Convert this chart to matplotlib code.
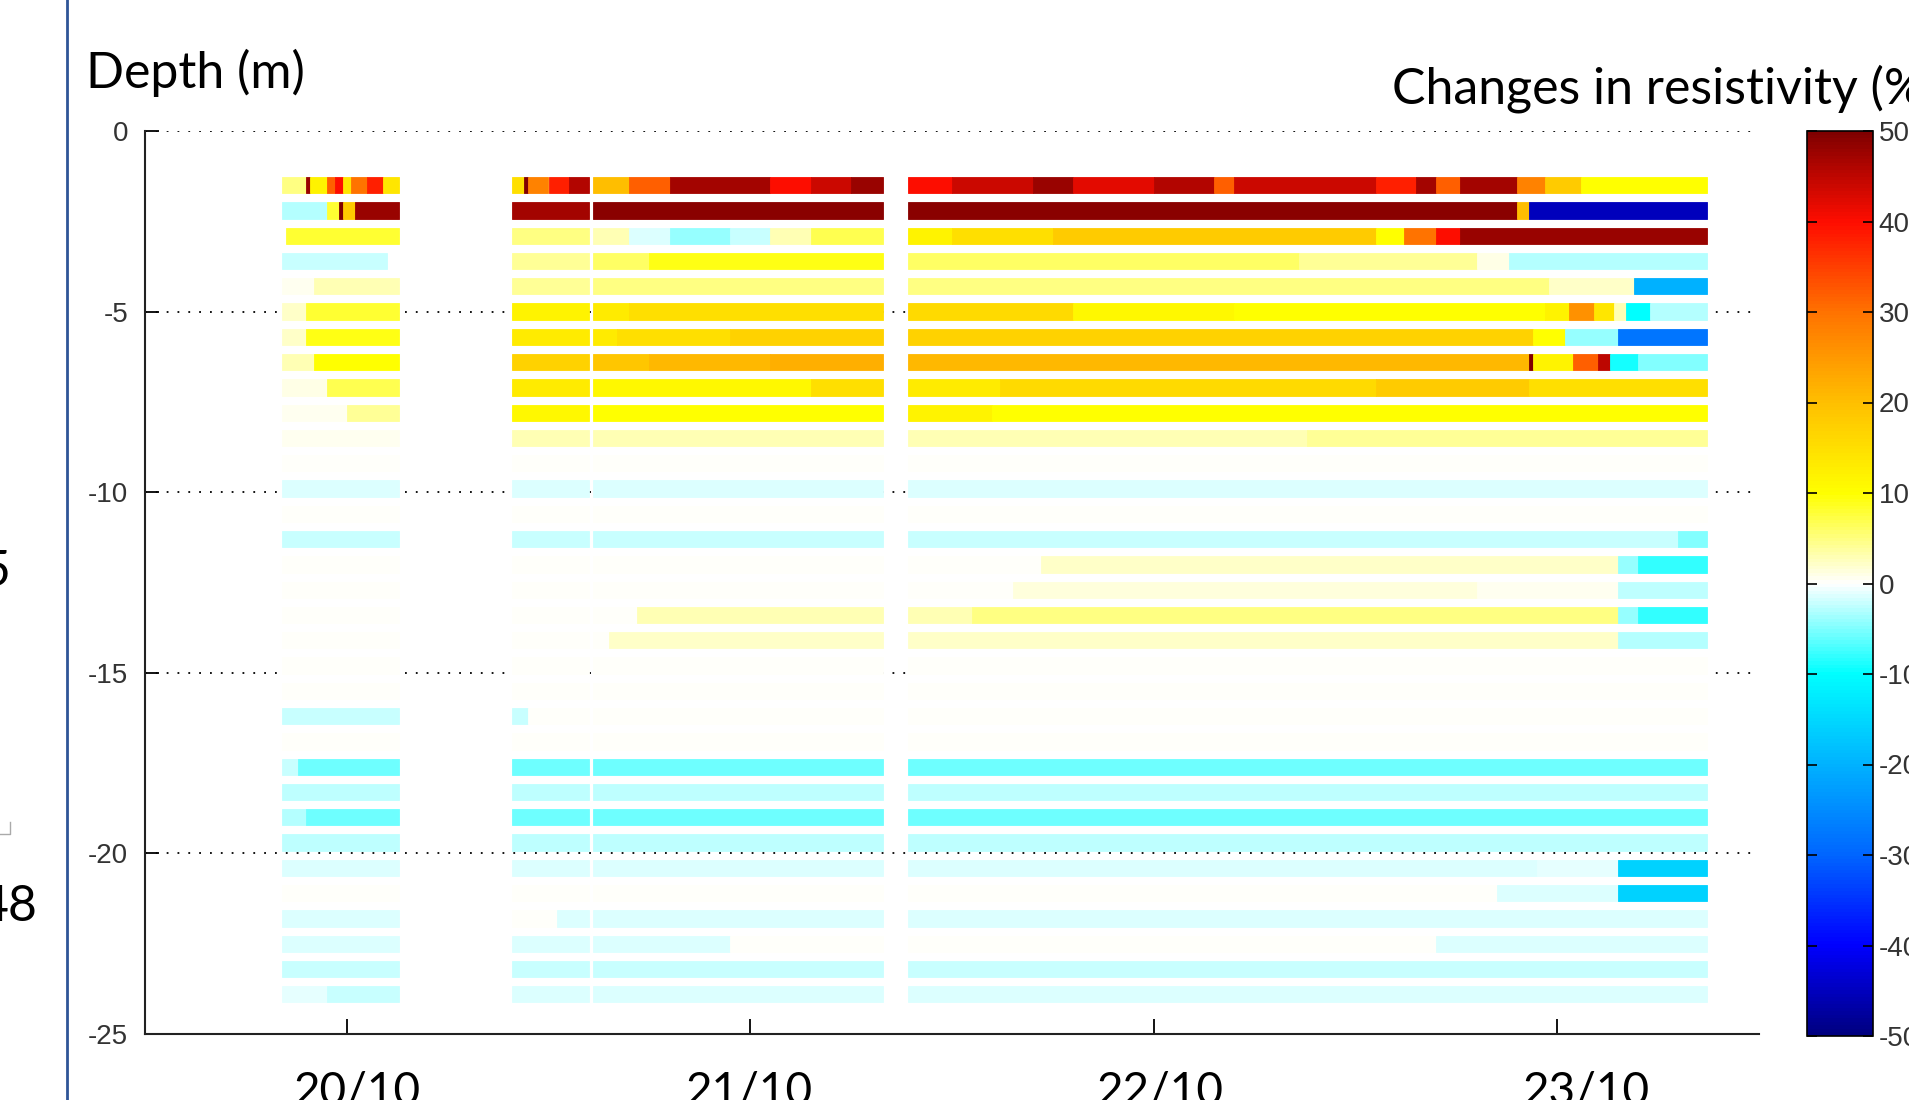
import matplotlib
matplotlib.use("Agg")
import matplotlib.pyplot as plt
from matplotlib.colors import LinearSegmentedColormap, Normalize
from matplotlib.cm import ScalarMappable
from matplotlib.lines import Line2D

plt.rcParams['axes.unicode_minus'] = False

# electrode layers, depth in m (bar centres)
depth = [1.5, 2.2, 2.9, 3.6, 4.3, 5.0, 5.7, 6.4, 7.1, 7.8, 8.5,
         9.2, 9.9, 10.6, 11.3, 12.0, 12.7, 13.4, 14.1, 14.8, 15.5, 16.2,
         16.9, 17.6, 18.3, 19.0, 19.7, 20.4, 21.1, 21.8, 22.5, 23.2, 23.9]

# (start day, end day, change in resistivity %)
layers_top = [
    [(19.84, 19.90, 5), (19.90, 19.91, 48), (19.91, 19.95, 12), (19.95, 19.97, 32), (19.97, 19.99, 40),
     (19.99, 20.01, 14), (20.01, 20.05, 30), (20.05, 20.09, 38), (20.09, 20.13, 14),
     (20.41, 20.44, 15), (20.44, 20.45, 50), (20.45, 20.50, 28), (20.50, 20.55, 38), (20.55, 20.60, 46),
     (20.61, 20.70, 20), (20.70, 20.80, 32), (20.80, 21.05, 47), (21.05, 21.15, 40), (21.15, 21.25, 44),
     (21.25, 21.33, 48),
     (21.39, 21.50, 40), (21.50, 21.70, 44), (21.70, 21.80, 48), (21.80, 22.00, 42), (22.00, 22.15, 46),
     (22.15, 22.20, 32), (22.20, 22.55, 44), (22.55, 22.65, 38), (22.65, 22.70, 47), (22.70, 22.76, 32),
     (22.76, 22.90, 47), (22.90, 22.97, 28), (22.97, 23.06, 18), (23.06, 23.37, 10)],
    [(19.84, 19.95, -3), (19.95, 19.98, 8), (19.98, 19.99, 50), (19.99, 20.02, 18), (20.02, 20.13, 48),
     (20.41, 20.60, 47), (20.61, 21.33, 49),
     (21.39, 22.90, 49), (22.90, 22.93, 20), (22.93, 23.37, -45)],
    [(19.85, 20.13, 8), (20.41, 20.60, 5),
     (20.61, 20.70, 3), (20.70, 20.80, -1.5), (20.80, 20.95, -4), (20.95, 21.05, -2), (21.05, 21.15, 3),
     (21.15, 21.33, 7),
     (21.39, 21.50, 12), (21.50, 21.75, 15), (21.75, 22.55, 18), (22.55, 22.62, 10), (22.62, 22.70, 30),
     (22.70, 22.76, 40), (22.76, 23.37, 48)],
    [(19.84, 20.10, -2), (20.41, 20.60, 4), (20.61, 20.75, 6), (20.75, 21.33, 9),
     (21.39, 22.36, 6), (22.36, 22.80, 4), (22.80, 22.88, 1), (22.88, 23.37, -3)],
    [(19.84, 19.92, 0.5), (19.92, 20.13, 3), (20.41, 20.60, 4), (20.61, 21.33, 5),
     (21.39, 22.98, 5), (22.98, 23.19, 2), (23.19, 23.37, -20)],
    [(19.84, 19.90, 2), (19.90, 20.13, 8), (20.41, 20.60, 12), (20.61, 20.70, 13), (20.70, 21.33, 15),
     (21.39, 21.80, 16), (21.80, 22.20, 11), (22.20, 22.97, 10), (22.97, 23.03, 12), (23.03, 23.09, 26),
     (23.09, 23.14, 14), (23.14, 23.17, 3), (23.17, 23.23, -10), (23.23, 23.37, -3)],
    [(19.84, 19.90, 2), (19.90, 20.13, 9), (20.41, 20.60, 13),
     (20.61, 20.67, 13), (20.67, 20.95, 15), (20.95, 21.33, 17),
     (21.39, 22.94, 17), (22.94, 23.02, 10), (23.02, 23.15, -4), (23.15, 23.37, -28)],
    [(19.84, 19.92, 3), (19.92, 20.13, 10), (20.41, 20.60, 17),
     (20.61, 20.75, 19), (20.75, 21.05, 21), (21.05, 21.33, 22),
     (21.39, 22.93, 21), (22.93, 22.94, 50), (22.94, 23.04, 12), (23.04, 23.10, 32), (23.10, 23.13, 45),
     (23.13, 23.20, -9), (23.20, 23.37, -5)],
    [(19.84, 19.95, 1), (19.95, 20.13, 7), (20.41, 20.60, 13), (20.61, 21.15, 11), (21.15, 21.33, 15),
     (21.39, 21.62, 13), (21.62, 22.55, 16), (22.55, 22.93, 18), (22.93, 23.37, 15)],
    [(19.84, 20.00, 0.5), (20.00, 20.13, 4), (20.41, 20.60, 11), (20.61, 21.33, 10),
     (21.39, 21.60, 12), (21.60, 23.37, 10)],
    [(19.84, 20.13, 0.5), (20.41, 20.60, 3), (20.61, 21.33, 3), (21.39, 22.38, 3), (22.38, 23.37, 4)],
]

layers_mid = [
    [(19.84, 20.13, 0), (20.41, 20.60, 0), (20.61, 21.33, 0), (21.39, 23.37, 0)],
    [(19.84, 20.13, -1.5), (20.41, 20.60, -1.5), (20.61, 21.33, -1.5), (21.39, 23.37, -1.5)],
    [(19.84, 20.13, 0), (20.41, 20.60, 0), (20.61, 21.33, 0), (21.39, 23.37, 0)],
    [(19.84, 20.13, -2), (20.41, 20.60, -2), (20.61, 21.33, -2), (21.39, 23.30, -2),
     (23.30, 23.37, -5)],
    [(19.84, 20.13, 0), (20.41, 20.60, 0), (20.61, 21.33, 0),
     (21.39, 21.72, 0), (21.72, 23.15, 2), (23.15, 23.20, -4), (23.20, 23.37, -8)],
    [(19.84, 20.13, 0), (20.41, 20.60, 0), (20.61, 21.33, 0),
     (21.39, 21.65, 0), (21.65, 22.80, 1.5), (22.80, 23.15, 0.5), (23.15, 23.37, -2.5)],
    [(19.84, 20.13, 0), (20.41, 20.60, 0), (20.61, 20.72, 0), (20.72, 21.33, 3),
     (21.39, 21.55, 3), (21.55, 23.15, 5), (23.15, 23.20, -4), (23.20, 23.37, -8)],
    [(19.84, 20.13, 0), (20.41, 20.60, 0), (20.61, 20.65, 0), (20.65, 21.33, 2),
     (21.39, 23.15, 2), (23.15, 23.37, -3)],
    [(19.84, 20.13, 0), (20.41, 20.60, 0), (20.61, 21.33, 0), (21.39, 23.37, 0)],
    [(19.84, 20.13, 0), (20.41, 20.60, 0), (20.61, 21.33, 0), (21.39, 23.37, 0)],
    [(19.84, 20.13, -2), (20.41, 20.45, -2), (20.45, 20.60, 0), (20.61, 21.33, 0), (21.39, 23.37, 0)],
]

layers_deep = [
    [(19.84, 20.13, 0), (20.41, 20.60, 0), (20.61, 21.33, 0), (21.39, 23.37, 0)],
    [(19.84, 19.88, -2), (19.88, 20.13, -5.5), (20.41, 20.60, -5.5), (20.61, 21.33, -5.5),
     (21.39, 23.37, -5.5)],
    [(19.84, 20.13, -2.5), (20.41, 20.60, -2.5), (20.61, 21.33, -2.5), (21.39, 23.37, -2.5)],
    [(19.84, 19.90, -3), (19.90, 20.13, -5.5), (20.41, 20.60, -5.5), (20.61, 21.33, -5.5),
     (21.39, 23.37, -5.5)],
    [(19.84, 20.13, -2.5), (20.41, 20.60, -2.5), (20.61, 21.33, -2.5), (21.39, 23.37, -2.5)],
    [(19.84, 20.13, -1.5), (20.41, 20.60, -1.5), (20.61, 21.33, -1.5),
     (21.39, 22.95, -1.5), (22.95, 23.15, -1), (23.15, 23.37, -16)],
    [(19.84, 20.13, 0), (20.41, 20.60, 0), (20.61, 21.33, 0),
     (21.39, 22.85, 0), (22.85, 23.15, -1.5), (23.15, 23.37, -16)],
    [(19.84, 20.13, -1.5), (20.41, 20.52, 0), (20.52, 20.60, -1.5), (20.61, 21.33, -1.5),
     (21.39, 23.37, -1.5)],
    [(19.84, 20.13, -1.5), (20.41, 20.60, -1.5), (20.61, 20.95, -1.5), (20.95, 21.33, 0),
     (21.39, 22.70, 0), (22.70, 23.37, -1.5)],
    [(19.84, 20.13, -2), (20.41, 20.60, -2), (20.61, 21.33, -2), (21.39, 23.37, -2)],
    [(19.84, 19.95, -1), (19.95, 20.13, -2), (20.41, 20.60, -1.5), (20.61, 21.33, -1.5),
     (21.39, 23.37, -1.5)],
]

day_ticks = [20, 21, 22, 23]
day_labels = ['20/10', '21/10', '22/10', '23/10']
day_label_shift = [0.027, -0.002, 0.017, 0.072]   # slide labels sit a little off the ticks
depth_ticks = [0, -5, -10, -15, -20, -25]
cbar_ticks = [50, 40, 30, 20, 10, 0, -10, -20, -30, -40, -50]

# jet-like map with white around zero
cmap = LinearSegmentedColormap.from_list('jetwhite', [
    (0.0, (0.0, 0.0, 0.5)), (0.1, (0.0, 0.0, 1.0)), (0.2, (0.0, 0.4, 1.0)),
    (0.3, (0.0, 0.7, 1.0)), (0.4, (0.0, 1.0, 1.0)), (0.5, (1.0, 1.0, 1.0)),
    (0.6, (1.0, 1.0, 0.0)), (0.7, (1.0, 0.75, 0.0)), (0.8, (1.0, 0.45, 0.0)),
    (0.9, (1.0, 0.05, 0.0)), (1.0, (0.5, 0.0, 0.0))], N=256)
norm = Normalize(-50, 50)

W, H = 1909, 1100
fig = plt.figure(figsize=(W / 100, H / 100), dpi=100)
ax = fig.add_axes([145 / W, 66 / H, (1759 - 145) / W, (1034 - 131) / H])

ys, lefts, widths, cols = [], [], [], []
for d, pieces in zip(depth, layers_top + layers_mid + layers_deep):
    for t0, t1, v in pieces:
        ys.append(-d)
        lefts.append(t0)
        widths.append(t1 - t0)
        cols.append(cmap(norm(v)))
ax.barh(ys, widths, left=lefts, height=0.45, color=cols, edgecolor=cols, linewidth=0.6, zorder=2)

ax.set_xlim(19.5, 23.5)
ax.set_ylim(-25, 0)
ax.set_yticks(depth_ticks)
ax.set_yticklabels([str(t) for t in depth_ticks], family='Liberation Sans', fontsize=20, color='#333333')
ax.set_xticks(day_ticks)
ax.set_xticklabels([])
ax.tick_params(axis='y', direction='in', length=10, width=1.3, pad=12)
ax.tick_params(axis='x', direction='in', length=11, width=1.3)
ax.grid(axis='y', linestyle=(0, (1, 5)), color='black', linewidth=1.3)
ax.set_axisbelow(True)
for s in ['top', 'right']:
    ax.spines[s].set_visible(False)
for s in ['left', 'bottom']:
    ax.spines[s].set_linewidth(1.5)
    ax.spines[s].set_color('#222222')

for t, lab, sh in zip(day_ticks, day_labels, day_label_shift):
    ax.text(t + sh, -0.040, lab, transform=ax.get_xaxis_transform(), ha='center', va='top',
            family='Lato', fontsize=33, clip_on=False)

cax = fig.add_axes([1807 / W, 64 / H, 66 / W, (1036 - 131) / H])
cb = fig.colorbar(ScalarMappable(norm=norm, cmap=cmap), cax=cax, ticks=cbar_ticks)
cb.outline.set_linewidth(1.2)
cax.tick_params(direction='in', left=True, right=True, length=7, width=1.2, pad=4,
                labelsize=20, labelcolor='#333333')
for lab in cax.get_yticklabels():
    lab.set_family('Liberation Sans')

fig.text(86 / W, 1 - 88 / H, 'Depth (m)', family='Lato', fontsize=36, va='baseline')
fig.text(1392 / W, 1 - 104 / H, 'Changes in resistivity (%)', family='Lato', fontsize=36, va='baseline')

# bits of the surrounding slide
fig.add_artist(Line2D([67 / W, 67 / W], [0, 1], color='#2f5597', linewidth=2))
fig.text(10 / W, 1 - 572 / H, '5', family='Lato', fontsize=36, ha='right', va='center')
fig.text(37 / W, 1 - 907 / H, '48', family='Lato', fontsize=36, ha='right', va='center')
fig.add_artist(Line2D([0, 10 / W, 10 / W], [1 - 834 / H, 1 - 834 / H, 1 - 822 / H],
                      color='#aaaaaa', linewidth=1))

fig.savefig('out.png', dpi=100)
